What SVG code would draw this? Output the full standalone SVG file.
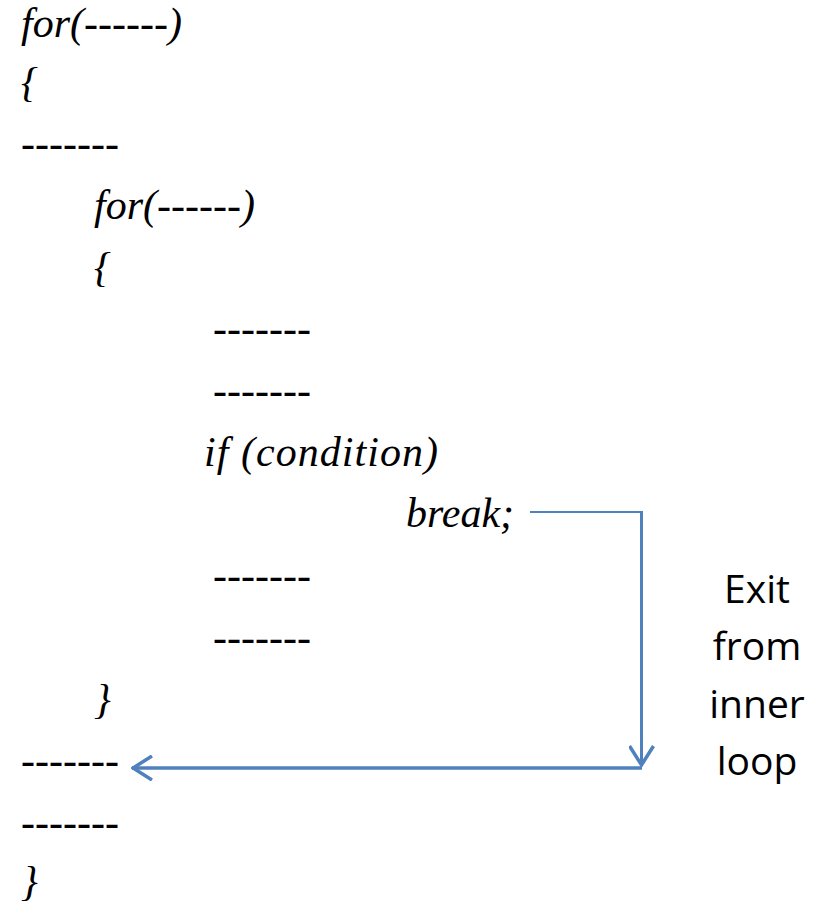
<svg xmlns="http://www.w3.org/2000/svg" width="827" height="905" viewBox="0 0 827 905">
  <style>
    .code { font-family: "Liberation Serif", "Times New Roman", serif; font-style: italic; font-size: 42px; fill: #000; }
    .note { font-family: "Open Sans", "Noto Sans", sans-serif; font-size: 39px; fill: #000; text-anchor: middle; }
    .flow { fill: none; stroke: #4F81BD; stroke-linecap: butt; stroke-linejoin: miter; }
  </style>
  <defs>
    <marker id="openArrowBig" viewBox="0 0 22 26" refX="21" refY="13" markerWidth="22" markerHeight="26" markerUnits="userSpaceOnUse" orient="auto">
      <path d="M1,1 L20,13 L1,25" fill="none" stroke="#4F81BD" stroke-width="3.5"/>
    </marker>
  </defs>

  <!-- program text -->
  <g id="outer-for"><text class="code" x="21" y="37">for(------)</text></g>
  <g id="outer-open"><text class="code" x="21" y="96">{</text></g>
  <g id="outer-stmt1"><text class="code" x="21" y="157">-------</text></g>
  <g id="inner-for"><text class="code" x="94" y="219">for(------)</text></g>
  <g id="inner-open"><text class="code" x="94" y="281">{</text></g>
  <g id="inner-stmt1"><text class="code" x="213" y="342">-------</text></g>
  <g id="inner-stmt2"><text class="code" x="213" y="404">-------</text></g>
  <g id="if-cond"><text class="code" x="204" y="466" textLength="234" lengthAdjust="spacing">if (condition)</text></g>
  <g id="break-stmt"><text class="code" x="406" y="527">break;</text></g>
  <g id="inner-stmt3"><text class="code" x="213" y="589">-------</text></g>
  <g id="inner-stmt4"><text class="code" x="213" y="651">-------</text></g>
  <g id="inner-close"><text class="code" x="94" y="713">}</text></g>
  <g id="outer-stmt2"><text class="code" x="21" y="774">-------</text></g>
  <g id="outer-stmt3"><text class="code" x="21" y="836">-------</text></g>
  <g id="outer-close"><text class="code" x="21" y="895">}</text></g>

  <!-- explanation label -->
  <g id="exit-label">
    <text class="note" x="757" y="603">Exit</text>
    <text class="note" x="757" y="660">from</text>
    <text class="note" x="757" y="718">inner</text>
    <text class="note" x="757" y="775">loop</text>
  </g>

  <!-- jump path taken by break -->
  <g id="connectors">
    <path class="flow" d="M530,512 H641.5" stroke-width="1.8"/>
    <path class="flow" d="M641.5,511 V766" stroke-width="3" marker-end="url(#openArrowBig)"/>
    <path class="flow" d="M642,768 H132" stroke-width="3.5" marker-end="url(#openArrowBig)"/>
  </g>
</svg>
